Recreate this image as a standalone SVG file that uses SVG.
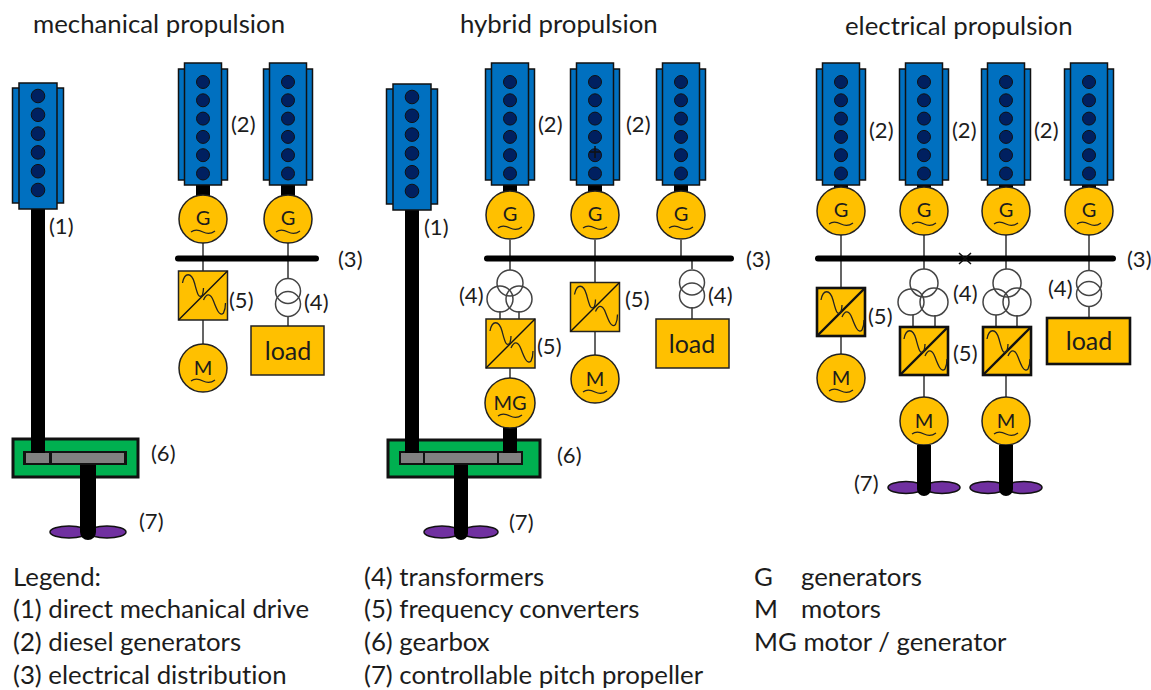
<svg xmlns="http://www.w3.org/2000/svg" width="1151" height="690" viewBox="0 0 1151 690">
<style>
text{font-family:Lato,"Open Sans","Liberation Sans",sans-serif;fill:#1c1c1c;font-variant-ligatures:none}
.t{font-size:25.800px}.l{font-size:22px}.u{font-size:20px;text-anchor:middle}.ld{font-size:25px;text-anchor:middle}
.y{fill:#ffc000;stroke:#222;stroke-width:1.500}
.yh{fill:#ffc000;stroke:#111;stroke-width:2.600}
.w{fill:none;stroke:#222;stroke-width:1.300}
.thin{stroke:#333;stroke-width:1.500;fill:none}
.sh{fill:#000}
.tr{fill:none;stroke:#444;stroke-width:1.500}
.gb{fill:#00b050;stroke:#111;stroke-width:3}
.gr{fill:#808080}
.pr{fill:#7030a0;stroke:#111;stroke-width:1.500}
.blk{stroke:#000;stroke-width:6;stroke-linecap:round}
.eb{fill:#0070c0;stroke:#111;stroke-width:1.500}
.cy{fill:#002060;stroke:#111;stroke-width:1}
</style>
<defs>
<g id="engine">
<rect x="-24.500" y="6" width="49" height="111" class="eb"/>
<rect x="-18.500" y="0" width="37" height="122" class="eb"/>
<circle cy="19" r="6.500" class="cy"/><circle cy="37.300" r="6.500" class="cy"/><circle cy="55.600" r="6.500" class="cy"/><circle cy="73.900" r="6.500" class="cy"/><circle cy="92.200" r="6.500" class="cy"/><circle cy="110.500" r="6.500" class="cy"/>
</g>
<g id="engineb">
<rect x="-25.500" y="5" width="51" height="115" class="eb"/>
<rect x="-19" y="0" width="38" height="126" class="eb"/>
<circle cy="13" r="6.800" class="cy"/><circle cy="31.800" r="6.800" class="cy"/><circle cy="50.600" r="6.800" class="cy"/><circle cy="69.400" r="6.800" class="cy"/><circle cy="88.200" r="6.800" class="cy"/><circle cy="107" r="6.800" class="cy"/>
</g>
<g id="wave"><path class="w" d="M4 12C6 1 13 1 16 12S20 28 24 24Q25 20 25 17"/><path class="w" d="M25 29C28 22 32 22 35 30S41 46 45 42Q47 38 47 32"/></g>
<g id="conv"><rect width="49" height="49" class="y"/><path d="M0 49L49 0" stroke="#111" stroke-width="1.500"/><use href="#wave"/></g>
<g id="convh"><rect width="48" height="48" class="yh"/><path d="M0 48L48 0" stroke="#111" stroke-width="2.400"/><use href="#wave"/></g>
<path id="tilde" class="w" d="M-12 0C-8 -3 -4 -2 0 0S8 2 12 -1"/>
</defs>

<g id="gearbox-1"><rect x="13" y="439" width="125" height="38" class="gb"/><rect x="23" y="451" width="104" height="14" fill="#111"/><rect x="26" y="453" width="23" height="10" class="gr"/><rect x="52" y="453" width="72" height="10" class="gr"/></g>
<g id="gearbox-2"><rect x="388" y="440" width="152" height="37" class="gb"/><rect x="399" y="451" width="124" height="14" fill="#111"/><rect x="401" y="453" width="22" height="10" class="gr"/><rect x="425" y="453" width="72" height="10" class="gr"/><rect x="499" y="453" width="22" height="10" class="gr"/></g>

<g id="connectors">
<g class="sh">
<rect x="31" y="205" width="14" height="248"/><rect x="196" y="185" width="14" height="12"/><rect x="281" y="185" width="14" height="12"/>
<rect x="405" y="205" width="14" height="248"/><rect x="503" y="185" width="14" height="12"/><rect x="588" y="185" width="14" height="12"/><rect x="674" y="185" width="14" height="12"/><rect x="503" y="425" width="14" height="28"/>
<rect x="834" y="185" width="14" height="12"/><rect x="917" y="185" width="14" height="12"/><rect x="999" y="185" width="14" height="12"/><rect x="1082" y="185" width="14" height="12"/>
</g>
<g class="thin">
<path d="M203 243V271M203 320V345M288 243V278M288 316V326"/>
<path d="M510 240V270M510 368V378M500 311V319M519 311V319M595 240V283M595 331V356M681 240V258M692 258V269M692 307V319"/>
<path d="M841 235V288M841 335V354M924 235V269M913 315V327M935 315V327M924 375V397M1006 235V269M996 315V327M1017 315V327M1006 375V397M1089 235V270M1089 307V318"/>
</g>
<path class="blk" d="M178 258.500H316M487 258.500H731M818 258.500H1113"/>
<path d="M959 253L971 264M971 253L959 264" stroke="#111" stroke-width="1.500"/>
</g>

<g id="titles">
<text class="t" x="33" y="33">mechanical propulsion</text>
<text class="t" x="460" y="33">hybrid propulsion</text>
<text class="t" x="845" y="35">electrical propulsion</text>
</g>

<g id="engine-1"><use href="#engineb" x="38" y="83"/></g>
<g id="engine-2"><use href="#engine" x="203" y="63"/></g>
<g id="engine-3"><use href="#engine" x="288" y="63"/></g>
<g id="engine-4"><use href="#engineb" x="412" y="84"/></g>
<g id="engine-5"><use href="#engine" x="510" y="63"/></g>
<g id="engine-6"><use href="#engine" x="595" y="63"/><path d="M595 146V158M589 152H601" stroke="#111" stroke-width="1.500"/></g>
<g id="engine-7"><use href="#engine" x="681" y="63"/></g>
<g id="engine-8"><use href="#engine" x="841" y="63"/></g>
<g id="engine-9"><use href="#engine" x="924" y="63"/></g>
<g id="engine-10"><use href="#engine" x="1006" y="63"/></g>
<g id="engine-11"><use href="#engine" x="1089" y="63"/></g>

<g id="gen-1"><circle cx="203" cy="219" r="24" class="y"/><text class="u" x="203" y="225">G</text><use href="#tilde" x="203" y="232"/></g>
<g id="gen-2"><circle cx="288" cy="219" r="24" class="y"/><text class="u" x="288" y="225">G</text><use href="#tilde" x="288" y="232"/></g>
<g id="gen-3"><circle cx="510" cy="215" r="24" class="y"/><text class="u" x="510" y="221">G</text><use href="#tilde" x="510" y="228"/></g>
<g id="gen-4"><circle cx="595" cy="215" r="24" class="y"/><text class="u" x="595" y="221">G</text><use href="#tilde" x="595" y="228"/></g>
<g id="gen-5"><circle cx="681" cy="215" r="24" class="y"/><text class="u" x="681" y="221">G</text><use href="#tilde" x="681" y="228"/></g>
<g id="gen-6"><circle cx="841" cy="211" r="24" class="y"/><text class="u" x="841" y="217">G</text><use href="#tilde" x="841" y="224"/></g>
<g id="gen-7"><circle cx="924" cy="211" r="24" class="y"/><text class="u" x="924" y="217">G</text><use href="#tilde" x="924" y="224"/></g>
<g id="gen-8"><circle cx="1006" cy="211" r="24" class="y"/><text class="u" x="1006" y="217">G</text><use href="#tilde" x="1006" y="224"/></g>
<g id="gen-9"><circle cx="1089" cy="211" r="24" class="y"/><text class="u" x="1089" y="217">G</text><use href="#tilde" x="1089" y="224"/></g>

<g id="conv-1"><use href="#conv" x="178.500" y="271"/></g>
<g id="conv-2"><use href="#conv" x="486" y="319"/></g>
<g id="conv-3"><use href="#conv" x="570.500" y="282.500"/></g>
<g id="conv-4"><use href="#convh" x="817" y="288"/></g>
<g id="conv-5"><use href="#convh" x="900" y="327"/></g>
<g id="conv-6"><use href="#convh" x="983" y="327"/></g>

<g id="motor-1"><circle cx="203" cy="368" r="24" class="y"/><text class="u" x="203" y="375">M</text><use href="#tilde" x="203" y="381"/></g>
<g id="motor-2"><circle cx="595" cy="379" r="24" class="y"/><text class="u" x="595" y="386">M</text><use href="#tilde" x="595" y="392"/></g>
<g id="motor-3"><circle cx="510" cy="403" r="25" class="y"/><text class="u" x="510" y="410">MG</text><use href="#tilde" x="510" y="416"/></g>
<g id="motor-4"><circle cx="841" cy="378" r="24" class="y"/><text class="u" x="841" y="385">M</text><use href="#tilde" x="841" y="391"/></g>
<g id="motor-5"><circle cx="924" cy="421" r="24" class="y"/><text class="u" x="924" y="428">M</text><use href="#tilde" x="924" y="434"/></g>
<g id="motor-6"><circle cx="1006" cy="421" r="24" class="y"/><text class="u" x="1006" y="428">M</text><use href="#tilde" x="1006" y="434"/></g>

<g id="trafo-1"><circle cx="288" cy="291" r="12.500" class="tr"/><circle cx="288" cy="304" r="12.500" class="tr"/></g>
<g id="trafo-2"><circle cx="510" cy="283" r="13" class="tr"/><circle cx="500" cy="299" r="13" class="tr"/><circle cx="519" cy="299" r="13" class="tr"/></g>
<g id="trafo-3"><circle cx="692" cy="282.500" r="12.500" class="tr"/><circle cx="692" cy="295.500" r="12.500" class="tr"/></g>
<g id="trafo-4"><circle cx="924" cy="283" r="14" class="tr"/><circle cx="911" cy="302" r="13" class="tr"/><circle cx="934" cy="302" r="14" class="tr"/></g>
<g id="trafo-5"><circle cx="1007" cy="283" r="14" class="tr"/><circle cx="996" cy="302" r="13" class="tr"/><circle cx="1017" cy="302" r="14" class="tr"/></g>
<g id="trafo-6"><circle cx="1089" cy="283" r="12.500" class="tr"/><circle cx="1089" cy="294" r="12.500" class="tr"/></g>

<g id="load-1"><rect x="251" y="326" width="73" height="49" class="y"/><text class="ld" x="288" y="360">load</text></g>
<g id="load-2"><rect x="656" y="319" width="73" height="49" class="y"/><text class="ld" x="692" y="353">load</text></g>
<g id="load-3"><rect x="1047" y="318" width="83" height="46" class="yh"/><text class="ld" x="1089" y="350">load</text></g>

<g id="prop-1"><ellipse cx="69" cy="532" rx="19" ry="6" class="pr"/><ellipse cx="107" cy="532" rx="19" ry="6" class="pr"/><path class="sh" d="M80 465H96V532A8 8 0 0 1 80 532Z"/></g>
<g id="prop-2"><ellipse cx="442" cy="532" rx="18" ry="6" class="pr"/><ellipse cx="480" cy="532" rx="18" ry="6" class="pr"/><path class="sh" d="M454 465H468V533A7 7 0 0 1 454 533Z"/></g>
<g id="prop-3"><ellipse cx="906" cy="487.500" rx="18" ry="6" class="pr"/><ellipse cx="942" cy="487.500" rx="18" ry="6" class="pr"/><path class="sh" d="M917 445H931V489A7 7 0 0 1 917 489Z"/></g>
<g id="prop-4"><ellipse cx="988" cy="487.500" rx="18" ry="6" class="pr"/><ellipse cx="1024" cy="487.500" rx="18" ry="6" class="pr"/><path class="sh" d="M999 445H1013V489A7 7 0 0 1 999 489Z"/></g>

<g id="labels">
<text class="l" x="49" y="234">(1)</text><text class="l" x="231" y="132">(2)</text><text class="l" x="338" y="267">(3)</text><text class="l" x="304" y="310">(4)</text><text class="l" x="229" y="308">(5)</text><text class="l" x="151" y="461">(6)</text><text class="l" x="139" y="529">(7)</text>
<text class="l" x="424" y="235">(1)</text><text class="l" x="538" y="132">(2)</text><text class="l" x="626" y="132">(2)</text><text class="l" x="746" y="267">(3)</text><text class="l" x="459" y="303">(4)</text><text class="l" x="708" y="303">(4)</text><text class="l" x="537" y="354">(5)</text><text class="l" x="625" y="307">(5)</text><text class="l" x="557" y="463">(6)</text><text class="l" x="509" y="530">(7)</text>
<text class="l" x="869" y="138">(2)</text><text class="l" x="952" y="138">(2)</text><text class="l" x="1034" y="138">(2)</text><text class="l" x="1127" y="267">(3)</text><text class="l" x="953" y="301">(4)</text><text class="l" x="1048" y="296">(4)</text><text class="l" x="868" y="324">(5)</text><text class="l" x="953" y="361">(5)</text><text class="l" x="854" y="491">(7)</text>
</g>

<g id="legend">
<text class="t" x="13" y="586">Legend:</text>
<text class="t" x="13" y="618">(1) direct mechanical drive</text>
<text class="t" x="13" y="651">(2) diesel generators</text>
<text class="t" x="13" y="684">(3) electrical distribution</text>
<text class="t" x="364" y="586">(4) transformers</text>
<text class="t" x="364" y="618">(5) frequency converters</text>
<text class="t" x="364" y="651">(6) gearbox</text>
<text class="t" x="364" y="684">(7) controllable pitch propeller</text>
<text class="t" x="754" y="586">G</text><text class="t" x="801" y="586">generators</text>
<text class="t" x="754" y="618">M</text><text class="t" x="801" y="618">motors</text>
<text class="t" x="754" y="651">MG motor / generator</text>
</g>
</svg>
